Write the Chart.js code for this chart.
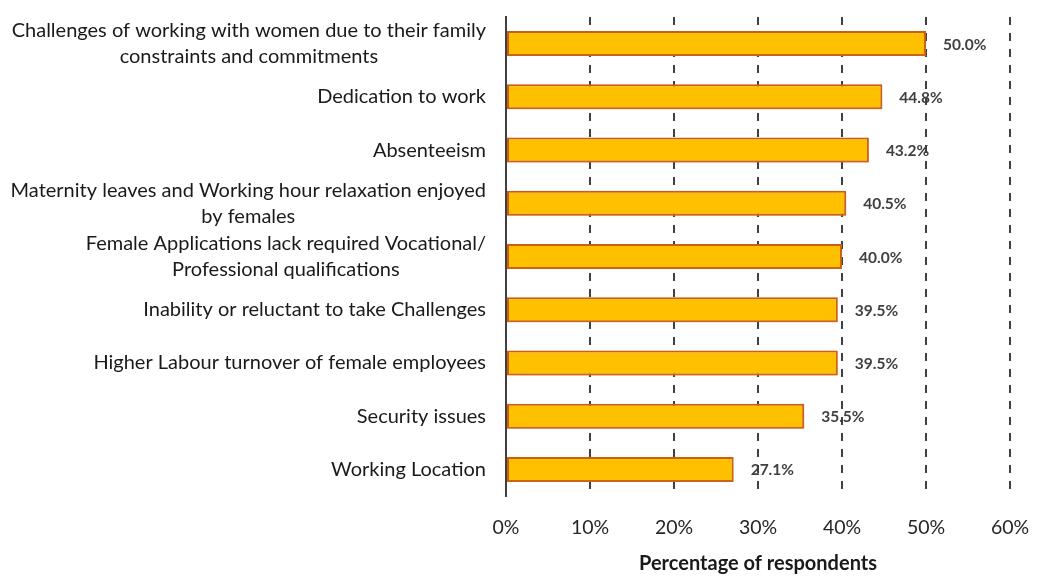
<!DOCTYPE html>
<html>
<head>
<meta charset="utf-8">
<script src="https://cdn.jsdelivr.net/npm/chart.js@4/dist/chart.umd.min.js"></script>
<style>
  html, body { margin: 0; padding: 0; background: #fff; }
  #wrap { width: 1037px; height: 576px; }
</style>
</head>
<body>
<div id="wrap"><canvas id="chart"></canvas></div>
<script>
// reasons given for not hiring women, share of respondents
const categories = [
  ['Challenges of working with women due to their family', 'constraints and commitments'],
  'Dedication to work',
  'Absenteeism',
  ['Maternity leaves and Working hour relaxation enjoyed', 'by females'],
  ['Female Applications lack required Vocational/', 'Professional qualifications'],
  'Inability or reluctant to take Challenges',
  'Higher Labour turnover of female employees',
  'Security issues',
  'Working Location',
];
const values = [50.0, 44.8, 43.2, 40.5, 40.0, 39.5, 39.5, 35.5, 27.1];
const xTicks = [0, 10, 20, 30, 40, 50, 60];

const FONT = "Lato, 'Open Sans', sans-serif";

// soft orange drop shadow under the bars
const barShadow = {
  id: 'barShadow',
  beforeDatasetsDraw(chart) {
    const ctx = chart.ctx;
    ctx.save();
    ctx.shadowColor = 'rgba(214, 110, 40, 0.5)';
    ctx.shadowBlur = 8;
    ctx.shadowOffsetX = 3;
    ctx.shadowOffsetY = 4;
  },
  afterDatasetsDraw(chart) {
    chart.ctx.restore();
  },
};

// value labels to the right of each bar
const valueLabels = {
  id: 'valueLabels',
  afterDatasetsDraw(chart) {
    const ctx = chart.ctx;
    const meta = chart.getDatasetMeta(0);
    ctx.save();
    ctx.font = `bold 15.5px ${FONT}`;
    ctx.fillStyle = '#404040';
    ctx.textAlign = 'left';
    ctx.textBaseline = 'middle';
    meta.data.forEach((bar, i) => {
      ctx.fillText(values[i].toFixed(1) + '%', bar.x + 17, bar.y + 1);
    });
    ctx.restore();
  },
};

// category labels: block right-aligned to the axis, lines centred within the block
const categoryLabels = {
  id: 'categoryLabels',
  afterDraw(chart) {
    const ctx = chart.ctx;
    const yScale = chart.scales.y;
    const right = chart.chartArea.left - 20;
    const lineH = 26;
    ctx.save();
    ctx.font = `20px ${FONT}`;
    ctx.fillStyle = '#1a1a1a';
    ctx.textAlign = 'center';
    ctx.textBaseline = 'middle';
    categories.forEach((label, i) => {
      const lines = Array.isArray(label) ? label : [label];
      const w = Math.max(...lines.map(l => ctx.measureText(l).width));
      const cx = right - w / 2;
      const cy = yScale.getPixelForTick(i);
      const y0 = cy - (lines.length - 1) * lineH / 2;
      lines.forEach((l, k) => ctx.fillText(l, cx, y0 + k * lineH));
    });
    ctx.restore();
  },
};

new Chart(document.getElementById('chart').getContext('2d'), {
  type: 'bar',
  data: {
    labels: categories,
    datasets: [{
      data: values,
      backgroundColor: '#FFC000',
      borderColor: '#C95F12',
      borderWidth: 2,
      borderSkipped: false,
      barPercentage: 0.94,
      categoryPercentage: 0.5,
    }],
  },
  options: {
    indexAxis: 'y',
    responsive: true,
    maintainAspectRatio: false,
    animation: false,
    layout: { padding: { top: 17, right: 0, bottom: 0, left: 0 } },
    scales: {
      x: {
        min: 0,
        max: 60,
        afterBuildTicks(axis) {
          axis.ticks = xTicks.map(v => ({ value: v }));
        },
        afterFit(axis) {
          axis.height = 80;
          axis.paddingRight = 27;
        },
        ticks: {
          callback: v => v + '%',
          font: { family: FONT, size: 19.5 },
          color: '#262626',
          padding: 20,
        },
        grid: {
          color: '#404040',
          lineWidth: 2,
          drawTicks: false,
        },
        border: { display: false, dash: [8, 8] },
        title: {
          display: true,
          text: 'Percentage of respondents',
          font: { family: FONT, size: 20, weight: 'bold' },
          color: '#1a1a1a',
          padding: { top: 0, bottom: 0 },
        },
      },
      y: {
        afterFit(axis) { axis.width = 506; },
        ticks: { display: false },
        grid: { display: false, drawTicks: false },
        border: { display: true, color: '#404040', width: 2 },
      },
    },
    plugins: {
      legend: { display: false },
      tooltip: { enabled: false },
    },
  },
  plugins: [barShadow, valueLabels, categoryLabels],
});
</script>
</body>
</html>
